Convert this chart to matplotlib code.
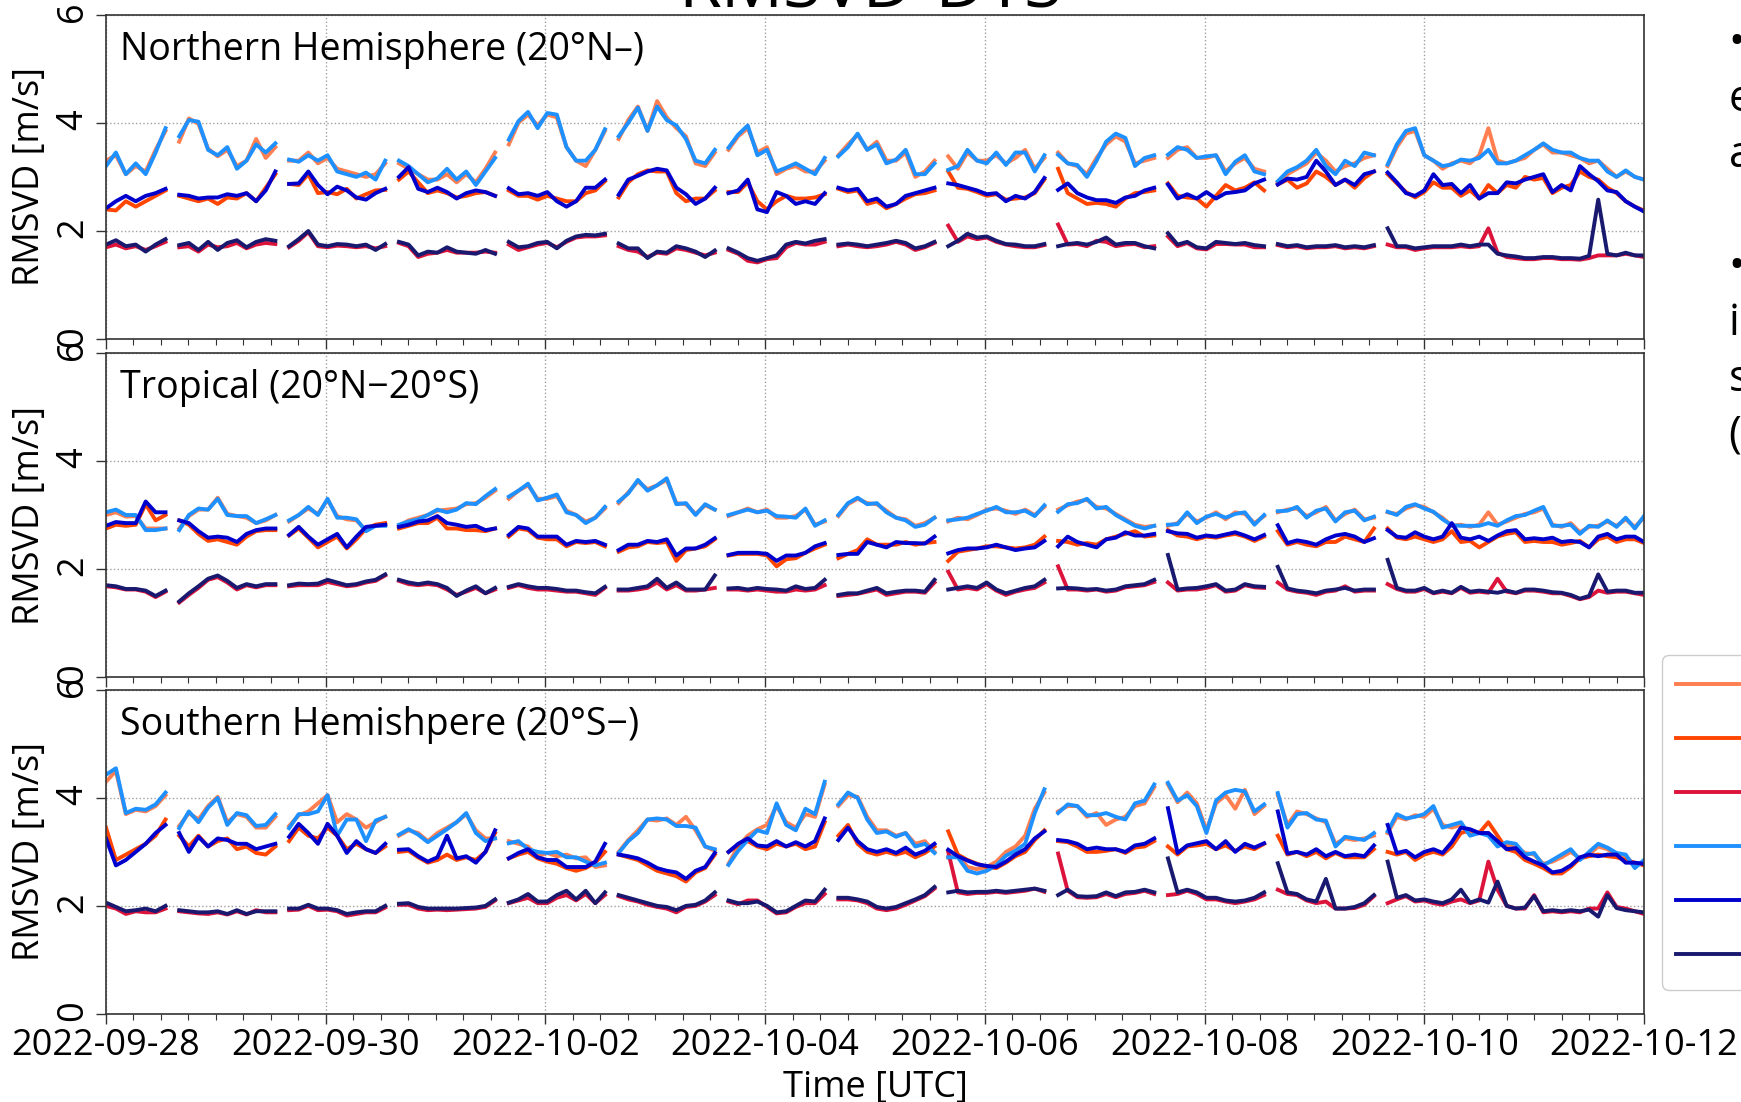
import numpy as np
import matplotlib
matplotlib.use("Agg")
import matplotlib.pyplot as plt
import matplotlib.dates as mdates

plt.rcParams['font.family'] = ['Open Sans', 'DejaVu Sans']

# ---------------- data ----------------
# hourly analysis windows (hours after 2022-09-28 00UTC); values sampled ~2-hourly
seg_start_h = [0, 16, 40, 64, 88, 112, 136, 160, 184, 208, 232, 256, 280]
seg_end_h = [13, 37, 61, 85, 109, 133, 157, 181, 205, 229, 253, 277, 336]
seg_npts = [7, 11, 11, 11, 11, 11, 11, 11, 11, 11, 11, 11, 29]

tick_dates = ['2022-09-28', '2022-09-30', '2022-10-02', '2022-10-04',
              '2022-10-06', '2022-10-08', '2022-10-10', '2022-10-12']

series_names = ['CNTL upper', 'CNTL middle', 'CNTL lower',
                'DTS upper', 'DTS middle', 'DTS lower']
series_colors = ['coral', 'orangered', 'crimson',
                 'dodgerblue', 'mediumblue', 'midnightblue']

panel_titles = ['Northern Hemisphere (20°N–)', 'Tropical (20°N−20°S)',
                'Southern Hemishpere (20°S−)']

# ---- Northern Hemisphere ----
nh_coral = [3.3, 3.4, 3.05, 3.2, 3.1, 3.5, 3.85,
            3.65, 4.08, 3.98, 3.52, 3.38, 3.5, 3.2, 3.3, 3.7, 3.35, 3.55,
            3.3, 3.3, 3.45, 3.25, 3.35, 3.15, 3.1, 3.05, 3.0, 3.05, 3.25,
            3.25, 3.15, 3.05, 2.95, 2.95, 3.05, 2.9, 3.05, 2.9, 3.15, 3.45,
            3.6, 4.0, 4.15, 3.95, 4.15, 4.1, 3.55, 3.3, 3.2, 3.5, 3.85,
            3.7, 4.05, 4.3, 3.85, 4.4, 4.1, 3.9, 3.75, 3.25, 3.2, 3.45,
            3.5, 3.75, 3.9, 3.45, 3.55, 3.05, 3.15, 3.2, 3.1, 3.1, 3.3,
            3.4, 3.6, 3.78, 3.5, 3.65, 3.3, 3.3, 3.45, 3.0, 3.1, 3.3,
            3.38, 3.15, 3.45, 3.3, 3.3, 3.4, 3.25, 3.35, 3.5, 3.15, 3.35,
            3.45, 3.25, 3.2, 3.05, 3.35, 3.6, 3.75, 3.65, 3.25, 3.3, 3.35,
            3.35, 3.5, 3.55, 3.35, 3.35, 3.4, 3.1, 3.25, 3.35, 3.15, 3.1,
            2.9, 3.05, 3.15, 3.25, 3.45, 3.3, 3.1, 3.2, 3.25, 3.35, 3.4,
            3.2, 3.55, 3.8, 3.85, 3.4, 3.3, 3.15, 3.25, 3.3, 3.25, 3.4, 3.9, 3.3, 3.25,
            3.3, 3.35, 3.5, 3.6, 3.45, 3.45, 3.4, 3.35, 3.25, 3.3, 3.15, 3.0, 3.1, 3.0, 2.95]
nh_orangered = [2.4, 2.38, 2.55, 2.45, 2.55, 2.65, 2.75,
                2.65, 2.6, 2.55, 2.6, 2.5, 2.62, 2.6, 2.7, 2.55, 2.8, 3.05,
                2.87, 2.85, 3.05, 2.7, 2.72, 2.68, 2.78, 2.6, 2.68, 2.75, 2.76,
                2.95, 3.1, 2.9, 2.7, 2.75, 2.7, 2.62, 2.65, 2.7, 2.72, 2.65,
                2.75, 2.65, 2.65, 2.58, 2.65, 2.6, 2.55, 2.55, 2.7, 2.75, 2.92,
                2.62, 2.9, 3.05, 3.12, 3.1, 3.1, 2.7, 2.55, 2.6, 2.6, 2.75,
                2.72, 2.72, 2.9, 2.55, 2.4, 2.55, 2.65, 2.6, 2.6, 2.62, 2.68,
                2.78, 2.72, 2.75, 2.5, 2.55, 2.42, 2.5, 2.6, 2.68, 2.7, 2.75,
                3.1, 2.8, 2.78, 2.72, 2.65, 2.68, 2.58, 2.6, 2.62, 2.7, 2.95,
                3.15, 2.7, 2.6, 2.5, 2.52, 2.5, 2.45, 2.6, 2.7, 2.72, 2.75,
                2.88, 2.65, 2.62, 2.6, 2.45, 2.65, 2.85, 2.75, 2.8, 2.9, 2.75,
                2.86, 2.95, 2.8, 2.88, 3.1, 3.0, 2.85, 2.95, 2.8, 2.98, 3.1,
                3.05, 2.88, 2.72, 2.62, 2.72, 2.9, 2.8, 2.8, 2.65, 2.75, 2.6, 2.85, 2.7, 2.85,
                2.8, 3.0, 2.95, 2.98, 2.7, 2.8, 2.85, 3.1, 3.0, 2.95, 2.8, 2.7, 2.55, 2.45, 2.38]
nh_crimson = [1.7, 1.75, 1.68, 1.72, 1.65, 1.72, 1.8,
              1.7, 1.72, 1.62, 1.75, 1.7, 1.72, 1.78, 1.68, 1.75, 1.78, 1.76,
              1.7, 1.82, 1.98, 1.72, 1.7, 1.73, 1.72, 1.7, 1.72, 1.68, 1.72,
              1.78, 1.72, 1.52, 1.58, 1.6, 1.65, 1.6, 1.6, 1.6, 1.62, 1.6,
              1.75, 1.65, 1.7, 1.75, 1.78, 1.7, 1.8, 1.88, 1.9, 1.9, 1.92,
              1.72, 1.65, 1.62, 1.52, 1.6, 1.58, 1.68, 1.65, 1.6, 1.55, 1.6,
              1.65, 1.58, 1.45, 1.42, 1.48, 1.5, 1.7, 1.78, 1.75, 1.75, 1.8,
              1.72, 1.75, 1.72, 1.7, 1.72, 1.75, 1.8, 1.75, 1.65, 1.7, 1.78,
              2.1, 1.8, 1.9, 1.85, 1.88, 1.8, 1.75, 1.72, 1.7, 1.7, 1.74,
              2.12, 1.75, 1.76, 1.72, 1.82, 1.8, 1.72, 1.75, 1.76, 1.7, 1.72,
              1.9, 1.72, 1.78, 1.68, 1.66, 1.76, 1.76, 1.75, 1.75, 1.7, 1.7,
              1.74, 1.7, 1.72, 1.68, 1.7, 1.7, 1.72, 1.68, 1.7, 1.68, 1.72,
              1.75, 1.7, 1.7, 1.65, 1.68, 1.7, 1.7, 1.7, 1.72, 1.7, 1.72, 2.05, 1.6, 1.52,
              1.5, 1.48, 1.48, 1.5, 1.5, 1.48, 1.48, 1.47, 1.5, 1.55, 1.55, 1.55, 1.58, 1.55, 1.52]
nh_dodgerblue = [3.2, 3.45, 3.05, 3.25, 3.05, 3.45, 3.9,
                 3.75, 4.05, 4.02, 3.5, 3.4, 3.55, 3.15, 3.3, 3.6, 3.45, 3.62,
                 3.32, 3.28, 3.4, 3.3, 3.4, 3.1, 3.05, 3.0, 3.08, 2.95, 3.3,
                 3.3, 3.2, 3.05, 2.9, 2.97, 3.15, 2.95, 3.1, 2.85, 3.1, 3.35,
                 3.69, 4.03, 4.2, 3.9, 4.18, 4.15, 3.55, 3.3, 3.3, 3.5, 3.88,
                 3.75, 4.0, 4.28, 3.85, 4.3, 4.05, 3.95, 3.7, 3.3, 3.25, 3.5,
                 3.54, 3.78, 3.95, 3.4, 3.5, 3.1, 3.17, 3.25, 3.15, 3.05, 3.35,
                 3.38, 3.55, 3.8, 3.5, 3.6, 3.25, 3.32, 3.5, 3.05, 3.05, 3.25,
                 3.13, 3.2, 3.5, 3.3, 3.25, 3.45, 3.22, 3.45, 3.45, 3.1, 3.4,
                 3.41, 3.25, 3.22, 3.0, 3.3, 3.65, 3.8, 3.72, 3.2, 3.35, 3.4,
                 3.41, 3.55, 3.5, 3.35, 3.38, 3.4, 3.05, 3.28, 3.4, 3.1, 3.05,
                 2.92, 3.1, 3.18, 3.3, 3.5, 3.2, 3.05, 3.3, 3.2, 3.45, 3.4,
                 3.23, 3.6, 3.85, 3.9, 3.4, 3.3, 3.2, 3.23, 3.32, 3.3, 3.35, 3.5, 3.25, 3.25,
                 3.3, 3.4, 3.5, 3.62, 3.5, 3.45, 3.45, 3.35, 3.3, 3.3, 3.1, 3.0, 3.12, 3.0, 2.95]
nh_mediumblue = [2.42, 2.55, 2.65, 2.55, 2.65, 2.7, 2.78,
                 2.67, 2.65, 2.6, 2.62, 2.62, 2.68, 2.65, 2.7, 2.55, 2.75, 3.1,
                 2.87, 2.88, 3.1, 2.85, 2.68, 2.82, 2.75, 2.62, 2.58, 2.7, 2.78,
                 3.0, 3.18, 2.78, 2.72, 2.8, 2.72, 2.6, 2.7, 2.75, 2.72, 2.65,
                 2.79, 2.68, 2.7, 2.65, 2.72, 2.55, 2.45, 2.55, 2.8, 2.8, 2.95,
                 2.67, 2.95, 3.02, 3.1, 3.15, 3.12, 2.8, 2.68, 2.5, 2.6, 2.8,
                 2.7, 2.75, 2.95, 2.4, 2.35, 2.72, 2.65, 2.5, 2.55, 2.5, 2.7,
                 2.8, 2.75, 2.78, 2.55, 2.6, 2.45, 2.5, 2.65, 2.7, 2.75, 2.8,
                 2.88, 2.85, 2.8, 2.75, 2.68, 2.7, 2.55, 2.65, 2.6, 2.72, 2.98,
                 2.76, 2.88, 2.7, 2.62, 2.57, 2.57, 2.52, 2.62, 2.65, 2.75, 2.8,
                 2.86, 2.6, 2.68, 2.6, 2.72, 2.6, 2.7, 2.72, 2.75, 2.88, 2.95,
                 2.86, 2.97, 2.95, 3.0, 3.3, 3.1, 2.85, 2.95, 2.85, 3.05, 3.1,
                 3.08, 2.9, 2.7, 2.65, 2.75, 3.05, 2.85, 2.87, 2.7, 2.85, 2.6, 2.7, 2.7, 2.9,
                 2.88, 2.95, 3.0, 3.05, 2.72, 2.85, 2.75, 3.2, 3.05, 2.92, 2.75, 2.72, 2.55, 2.45, 2.36]
nh_midnightblue = [1.75, 1.83, 1.72, 1.75, 1.62, 1.75, 1.85,
                   1.74, 1.78, 1.65, 1.8, 1.65, 1.78, 1.83, 1.7, 1.8, 1.85, 1.82,
                   1.72, 1.85, 2.0, 1.75, 1.72, 1.76, 1.75, 1.72, 1.75, 1.65, 1.76,
                   1.8, 1.75, 1.55, 1.62, 1.6, 1.7, 1.62, 1.6, 1.58, 1.65, 1.58,
                   1.8, 1.7, 1.72, 1.78, 1.8, 1.68, 1.82, 1.9, 1.93, 1.92, 1.95,
                   1.77, 1.68, 1.68, 1.5, 1.62, 1.6, 1.72, 1.68, 1.62, 1.52, 1.64,
                   1.68, 1.6, 1.5, 1.45, 1.5, 1.55, 1.75, 1.8, 1.77, 1.82, 1.85,
                   1.75, 1.77, 1.75, 1.72, 1.75, 1.78, 1.82, 1.78, 1.68, 1.72, 1.8,
                   1.72, 1.82, 1.95, 1.88, 1.9, 1.82, 1.76, 1.75, 1.72, 1.72, 1.76,
                   1.72, 1.76, 1.78, 1.75, 1.8, 1.88, 1.75, 1.78, 1.78, 1.72, 1.68,
                   1.96, 1.75, 1.8, 1.7, 1.68, 1.8, 1.78, 1.76, 1.78, 1.74, 1.72,
                   1.76, 1.72, 1.74, 1.7, 1.72, 1.72, 1.74, 1.7, 1.72, 1.7, 1.74,
                   2.05, 1.72, 1.72, 1.68, 1.7, 1.72, 1.72, 1.72, 1.75, 1.72, 1.75, 1.75, 1.58, 1.55,
                   1.53, 1.5, 1.5, 1.52, 1.52, 1.5, 1.5, 1.49, 1.54, 2.58, 1.58, 1.55, 1.6, 1.55, 1.55]

# ---- Tropical ----
tr_coral = [3.0, 3.05, 2.97, 2.98, 2.75, 2.75, 2.75,
            2.75, 2.98, 3.1, 3.1, 3.32, 3.02, 2.98, 2.95, 2.85, 2.9, 3.0,
            2.88, 3.0, 3.12, 3.02, 3.28, 2.98, 2.92, 2.9, 2.72, 2.82, 2.82,
            2.8, 2.9, 2.95, 3.0, 3.08, 3.1, 3.12, 3.2, 3.22, 3.32, 3.45,
            3.3, 3.45, 3.55, 3.3, 3.3, 3.35, 3.08, 3.0, 2.88, 2.95, 3.12,
            3.22, 3.42, 3.62, 3.48, 3.55, 3.65, 3.22, 3.2, 3.02, 3.18, 3.1,
            2.98, 3.05, 3.12, 3.05, 3.1, 2.95, 2.95, 2.98, 3.1, 2.82, 2.88,
            2.98, 3.2, 3.3, 3.22, 3.2, 3.08, 2.95, 2.92, 2.8, 2.85, 2.95,
            2.88, 2.95, 2.92, 3.0, 3.1, 3.12, 3.08, 3.02, 3.1, 3.0, 3.15,
            3.1, 3.18, 3.25, 3.28, 3.15, 3.12, 3.02, 2.92, 2.82, 2.78, 2.8,
            2.8, 2.85, 3.02, 2.88, 2.95, 3.05, 2.92, 3.05, 3.02, 2.85, 2.98,
            3.05, 3.1, 3.12, 2.98, 3.05, 3.15, 2.9, 3.02, 3.1, 2.92, 2.95,
            3.05, 3.02, 3.12, 3.18, 3.15, 3.05, 2.95, 2.8, 2.82, 2.78, 2.82, 3.05, 2.82, 2.88,
            2.95, 3.02, 3.05, 3.12, 2.82, 2.78, 2.85, 2.68, 2.78, 2.8, 2.88, 2.8, 2.92, 2.78, 2.95]
tr_orangered = [2.75, 2.82, 2.8, 2.82, 3.2, 2.9, 3.0,
                2.9, 2.82, 2.65, 2.52, 2.55, 2.5, 2.45, 2.6, 2.7, 2.72, 2.72,
                2.62, 2.75, 2.58, 2.4, 2.5, 2.6, 2.38, 2.55, 2.75, 2.82, 2.85,
                2.75, 2.8, 2.85, 2.85, 2.95, 2.75, 2.75, 2.72, 2.72, 2.7, 2.75,
                2.6, 2.75, 2.72, 2.58, 2.55, 2.55, 2.42, 2.5, 2.48, 2.5, 2.42,
                2.32, 2.4, 2.42, 2.5, 2.48, 2.5, 2.15, 2.35, 2.38, 2.42, 2.55,
                2.25, 2.28, 2.28, 2.28, 2.25, 2.05, 2.18, 2.2, 2.3, 2.38, 2.45,
                2.2, 2.28, 2.35, 2.55, 2.45, 2.45, 2.45, 2.5, 2.45, 2.48, 2.5,
                2.15, 2.32, 2.35, 2.38, 2.42, 2.42, 2.4, 2.38, 2.4, 2.45, 2.6,
                2.52, 2.5, 2.45, 2.48, 2.45, 2.55, 2.6, 2.65, 2.7, 2.6, 2.62,
                2.72, 2.62, 2.6, 2.55, 2.6, 2.58, 2.62, 2.65, 2.6, 2.52, 2.6,
                2.7, 2.45, 2.5, 2.45, 2.42, 2.5, 2.5, 2.6, 2.55, 2.5, 2.75,
                2.75, 2.58, 2.55, 2.6, 2.55, 2.5, 2.55, 2.7, 2.5, 2.52, 2.4, 2.5, 2.6, 2.65,
                2.68, 2.5, 2.52, 2.5, 2.5, 2.45, 2.48, 2.52, 2.4, 2.55, 2.6, 2.5, 2.55, 2.55, 2.48]
tr_crimson = [1.68, 1.66, 1.62, 1.62, 1.58, 1.48, 1.58,
              1.38, 1.52, 1.65, 1.8, 1.85, 1.75, 1.62, 1.7, 1.66, 1.7, 1.7,
              1.68, 1.7, 1.7, 1.7, 1.76, 1.72, 1.68, 1.7, 1.75, 1.78, 1.88,
              1.78, 1.72, 1.7, 1.72, 1.7, 1.62, 1.52, 1.58, 1.65, 1.55, 1.62,
              1.65, 1.7, 1.65, 1.62, 1.62, 1.6, 1.58, 1.58, 1.55, 1.52, 1.65,
              1.6, 1.6, 1.62, 1.65, 1.75, 1.62, 1.7, 1.6, 1.6, 1.62, 1.65,
              1.62, 1.62, 1.6, 1.62, 1.6, 1.58, 1.58, 1.62, 1.6, 1.62, 1.7,
              1.5, 1.52, 1.54, 1.58, 1.62, 1.52, 1.55, 1.58, 1.58, 1.56, 1.75,
              1.95, 1.62, 1.65, 1.62, 1.72, 1.6, 1.52, 1.58, 1.62, 1.65, 1.75,
              2.05, 1.62, 1.62, 1.6, 1.62, 1.58, 1.6, 1.66, 1.68, 1.7, 1.76,
              1.75, 1.6, 1.62, 1.62, 1.65, 1.7, 1.58, 1.6, 1.7, 1.66, 1.65,
              1.75, 1.62, 1.58, 1.56, 1.52, 1.58, 1.6, 1.68, 1.58, 1.6, 1.6,
              1.72, 1.63, 1.58, 1.58, 1.63, 1.55, 1.58, 1.55, 1.65, 1.56, 1.58, 1.56, 1.82, 1.58,
              1.55, 1.6, 1.6, 1.58, 1.55, 1.55, 1.5, 1.44, 1.48, 1.6, 1.56, 1.58, 1.58, 1.55, 1.52]
tr_dodgerblue = [3.05, 3.1, 3.0, 3.0, 2.72, 2.72, 2.75,
                 2.72, 3.0, 3.12, 3.1, 3.3, 3.0, 2.98, 2.98, 2.85, 2.92, 3.0,
                 2.9, 3.0, 3.15, 3.0, 3.3, 2.95, 2.95, 2.92, 2.7, 2.8, 2.8,
                 2.82, 2.88, 2.92, 3.0, 3.1, 3.05, 3.1, 3.22, 3.2, 3.35, 3.48,
                 3.34, 3.45, 3.58, 3.27, 3.32, 3.38, 3.05, 3.0, 2.85, 2.95, 3.15,
                 3.25, 3.4, 3.65, 3.45, 3.55, 3.68, 3.2, 3.22, 3.0, 3.2, 3.1,
                 3.0, 3.05, 3.1, 3.05, 3.08, 2.98, 2.97, 2.95, 3.12, 2.8, 2.9,
                 3.0, 3.22, 3.32, 3.2, 3.22, 3.05, 2.95, 2.9, 2.78, 2.82, 2.95,
                 2.9, 2.92, 2.95, 3.02, 3.08, 3.15, 3.05, 3.05, 3.08, 2.98, 3.18,
                 3.06, 3.2, 3.22, 3.3, 3.12, 3.15, 3.0, 2.9, 2.8, 2.75, 2.8,
                 2.82, 2.83, 3.05, 2.85, 2.97, 3.02, 2.95, 3.02, 3.05, 2.82, 3.0,
                 3.07, 3.08, 3.15, 2.95, 3.08, 3.12, 2.88, 3.05, 3.08, 2.9, 2.97,
                 3.06, 3.0, 3.15, 3.2, 3.12, 3.06, 2.92, 2.81, 2.8, 2.8, 2.8, 2.85, 2.8, 2.9,
                 2.98, 3.0, 3.08, 3.15, 2.8, 2.8, 2.82, 2.65, 2.8, 2.78, 2.9, 2.78, 2.95, 2.75, 2.98]
tr_mediumblue = [2.8, 2.87, 2.85, 2.85, 3.25, 3.05, 3.05,
                 2.9, 2.85, 2.7, 2.58, 2.6, 2.58, 2.5, 2.65, 2.72, 2.75, 2.75,
                 2.63, 2.78, 2.6, 2.45, 2.55, 2.65, 2.4, 2.6, 2.78, 2.8, 2.82,
                 2.78, 2.82, 2.88, 2.9, 2.98, 2.85, 2.82, 2.78, 2.8, 2.72, 2.75,
                 2.63, 2.78, 2.75, 2.6, 2.6, 2.6, 2.45, 2.52, 2.5, 2.52, 2.45,
                 2.35, 2.45, 2.45, 2.52, 2.5, 2.55, 2.25, 2.38, 2.38, 2.45, 2.57,
                 2.26, 2.3, 2.3, 2.3, 2.28, 2.15, 2.25, 2.25, 2.3, 2.42, 2.48,
                 2.26, 2.28, 2.28, 2.5, 2.45, 2.4, 2.5, 2.48, 2.48, 2.47, 2.6,
                 2.29, 2.35, 2.38, 2.38, 2.4, 2.45, 2.4, 2.35, 2.38, 2.4, 2.52,
                 2.42, 2.6, 2.5, 2.45, 2.4, 2.55, 2.58, 2.68, 2.62, 2.62, 2.65,
                 2.7, 2.66, 2.65, 2.58, 2.62, 2.6, 2.64, 2.68, 2.62, 2.55, 2.63,
                 2.81, 2.48, 2.53, 2.5, 2.45, 2.55, 2.62, 2.65, 2.6, 2.5, 2.57,
                 2.72, 2.6, 2.58, 2.68, 2.6, 2.55, 2.6, 2.85, 2.58, 2.55, 2.6, 2.52, 2.62, 2.7,
                 2.72, 2.55, 2.57, 2.55, 2.58, 2.5, 2.52, 2.5, 2.4, 2.6, 2.65, 2.55, 2.6, 2.6, 2.5]
tr_midnightblue = [1.7, 1.68, 1.63, 1.63, 1.6, 1.5, 1.6,
                   1.4, 1.55, 1.68, 1.82, 1.88, 1.78, 1.65, 1.72, 1.68, 1.72, 1.72,
                   1.7, 1.73, 1.72, 1.73, 1.8, 1.75, 1.7, 1.72, 1.77, 1.8, 1.9,
                   1.8, 1.75, 1.72, 1.75, 1.72, 1.65, 1.5, 1.6, 1.68, 1.55, 1.65,
                   1.67, 1.72, 1.68, 1.65, 1.65, 1.63, 1.6, 1.6, 1.57, 1.55, 1.67,
                   1.62, 1.62, 1.65, 1.68, 1.82, 1.65, 1.75, 1.62, 1.62, 1.62, 1.88,
                   1.64, 1.65, 1.62, 1.65, 1.63, 1.62, 1.6, 1.68, 1.63, 1.65, 1.8,
                   1.52, 1.55, 1.55, 1.6, 1.65, 1.55, 1.58, 1.6, 1.6, 1.58, 1.8,
                   1.62, 1.65, 1.68, 1.65, 1.75, 1.62, 1.55, 1.6, 1.65, 1.68, 1.8,
                   1.64, 1.65, 1.64, 1.62, 1.63, 1.6, 1.62, 1.68, 1.7, 1.72, 1.8,
                   2.26, 1.62, 1.64, 1.65, 1.68, 1.72, 1.6, 1.62, 1.72, 1.68, 1.67,
                   2.04, 1.64, 1.6, 1.58, 1.55, 1.6, 1.62, 1.65, 1.6, 1.62, 1.62,
                   2.17, 1.65, 1.6, 1.6, 1.65, 1.56, 1.6, 1.56, 1.67, 1.58, 1.6, 1.58, 1.56, 1.6,
                   1.56, 1.62, 1.62, 1.6, 1.57, 1.56, 1.52, 1.45, 1.5, 1.9, 1.58, 1.6, 1.6, 1.56, 1.56]

# ---- Southern Hemisphere ----
sh_coral = [4.3, 4.5, 3.7, 3.78, 3.75, 3.85, 4.05,
            3.48, 3.72, 3.6, 3.85, 4.02, 3.55, 3.7, 3.65, 3.45, 3.45, 3.65,
            3.48, 3.68, 3.75, 3.9, 4.05, 3.55, 3.7, 3.6, 3.45, 3.55, 3.65,
            3.3, 3.4, 3.35, 3.2, 3.35, 3.45, 3.55, 3.7, 3.4, 3.25, 3.25,
            3.2, 3.15, 3.1, 2.92, 2.98, 2.92, 2.95, 2.88, 2.9, 2.72, 2.75,
            3.0, 3.22, 3.4, 3.6, 3.58, 3.62, 3.5, 3.65, 3.4, 3.1, 3.02,
            2.78, 3.1, 3.3, 3.42, 3.5, 3.85, 3.55, 3.45, 3.7, 3.65, 4.25,
            3.85, 4.05, 4.02, 3.65, 3.4, 3.4, 3.3, 3.35, 3.15, 3.2, 3.0,
            2.9, 2.95, 2.72, 2.68, 2.72, 2.82, 3.0, 3.1, 3.3, 3.8, 4.1,
            3.75, 3.85, 3.85, 3.65, 3.72, 3.5, 3.6, 3.65, 3.85, 3.9, 4.2,
            4.25, 3.92, 4.1, 3.9, 3.4, 3.9, 4.05, 3.8, 4.15, 3.7, 3.85,
            4.05, 3.5, 3.75, 3.7, 3.62, 3.55, 3.15, 3.25, 3.22, 3.25, 3.3,
            3.35, 3.65, 3.6, 3.68, 3.65, 3.8, 3.5, 3.45, 3.5, 3.32, 3.35, 3.35, 3.15, 3.12,
            3.1, 2.98, 2.95, 2.78, 2.82, 2.9, 3.0, 2.88, 2.95, 3.1, 3.05, 2.95, 2.92, 2.75, 2.82]
sh_orangered = [3.45, 2.85, 2.95, 3.05, 3.15, 3.3, 3.6,
                3.3, 3.1, 3.3, 3.1, 3.2, 3.25, 3.05, 3.1, 2.98, 2.95, 3.1,
                3.2, 3.45, 3.3, 3.25, 3.45, 3.3, 3.05, 3.15, 3.05, 2.98, 3.1,
                3.0, 3.02, 2.9, 2.8, 2.85, 2.95, 2.85, 2.9, 2.85, 3.0, 3.35,
                2.88, 2.95, 3.0, 2.88, 2.82, 2.78, 2.7, 2.65, 2.7, 2.8, 3.0,
                2.95, 2.9, 2.85, 2.75, 2.65, 2.6, 2.55, 2.45, 2.62, 2.7, 2.95,
                3.0, 3.12, 3.2, 3.1, 3.05, 3.15, 3.1, 3.15, 3.05, 3.1, 3.55,
                3.3, 3.5, 3.15, 3.0, 2.95, 3.0, 2.95, 3.0, 2.9, 2.98, 3.1,
                3.38, 2.95, 2.85, 2.78, 2.72, 2.7, 2.8, 2.92, 3.0, 3.22, 3.4,
                3.2, 3.18, 3.1, 3.0, 3.0, 3.02, 3.05, 2.98, 3.08, 3.1, 3.2,
                3.1, 2.95, 3.1, 3.12, 3.15, 3.05, 3.12, 3.02, 3.1, 3.05, 3.15,
                3.3, 2.95, 3.0, 2.92, 3.0, 2.88, 2.98, 2.9, 2.9, 2.9, 3.05,
                3.0, 2.95, 3.0, 2.85, 2.95, 3.0, 2.95, 3.1, 3.35, 3.4, 3.35, 3.55, 3.3, 3.05,
                3.0, 2.85, 2.78, 2.7, 2.6, 2.6, 2.72, 2.88, 2.92, 2.95, 2.92, 2.9, 2.85, 2.8, 2.75]
sh_crimson = [2.0, 1.95, 1.85, 1.9, 1.88, 1.88, 1.95,
              1.9, 1.88, 1.86, 1.85, 1.88, 1.84, 1.9, 1.84, 1.92, 1.88, 1.88,
              1.92, 1.93, 2.0, 1.92, 1.93, 1.9, 1.82, 1.85, 1.88, 1.88, 1.97,
              2.02, 2.02, 1.95, 1.92, 1.93, 1.92, 1.93, 1.94, 1.95, 1.98, 2.1,
              2.05, 2.1, 2.15, 2.05, 2.05, 2.15, 2.2, 2.1, 2.22, 2.05, 2.2,
              2.18, 2.12, 2.08, 2.02, 1.98, 1.95, 1.88, 1.98, 2.0, 2.08, 2.2,
              2.08, 2.03, 2.1, 2.1, 1.98, 1.86, 1.88, 1.98, 2.05, 2.05, 2.22,
              2.12, 2.12, 2.1, 2.05, 1.95, 1.92, 1.95, 2.02, 2.1, 2.18, 2.32,
              3.0, 2.25, 2.22, 2.24, 2.24, 2.26, 2.24, 2.26, 2.28, 2.32, 2.26,
              2.97, 2.28, 2.16, 2.15, 2.16, 2.22, 2.16, 2.22, 2.24, 2.28, 2.22,
              2.2, 2.22, 2.28, 2.22, 2.12, 2.12, 2.08, 2.05, 2.08, 2.12, 2.2,
              2.3, 2.22, 2.2, 2.1, 2.05, 2.08, 1.95, 1.95, 1.96, 2.02, 2.18,
              2.05, 2.12, 2.18, 2.08, 2.1, 2.05, 2.02, 2.08, 2.12, 2.05, 2.1, 2.82, 2.3, 2.0,
              1.95, 1.95, 2.2, 1.88, 1.9, 1.88, 1.9, 1.88, 1.95, 1.95, 2.25, 1.98, 1.95, 1.9, 1.85]
sh_dodgerblue = [4.43, 4.55, 3.72, 3.8, 3.78, 3.88, 4.1,
                 3.44, 3.75, 3.55, 3.82, 4.0, 3.5, 3.72, 3.68, 3.48, 3.5, 3.7,
                 3.44, 3.7, 3.7, 3.75, 4.05, 3.3, 3.6, 3.6, 3.2, 3.58, 3.65,
                 3.32, 3.42, 3.32, 3.18, 3.3, 3.42, 3.55, 3.72, 3.35, 3.2, 3.25,
                 3.16, 3.2, 3.05, 3.0, 2.98, 3.0, 2.9, 2.9, 2.82, 2.75, 2.8,
                 2.98, 3.2, 3.35, 3.6, 3.62, 3.6, 3.48, 3.48, 3.45, 3.1, 3.05,
                 2.76, 3.02, 3.22, 3.4, 3.35, 3.9, 3.5, 3.4, 3.8, 3.7, 4.3,
                 3.88, 4.1, 4.0, 3.6, 3.35, 3.38, 3.28, 3.35, 3.1, 3.15, 2.98,
                 2.9, 2.9, 2.65, 2.6, 2.65, 2.75, 2.93, 3.02, 3.15, 3.72, 4.16,
                 3.72, 3.88, 3.85, 3.68, 3.68, 3.72, 3.65, 3.6, 3.9, 3.95, 4.25,
                 4.28, 3.95, 4.05, 3.85, 3.35, 3.95, 4.1, 4.15, 4.12, 3.75, 3.88,
                 4.09, 3.45, 3.7, 3.72, 3.6, 3.58, 3.1, 3.28, 3.25, 3.22, 3.35,
                 3.38, 3.7, 3.62, 3.65, 3.7, 3.85, 3.45, 3.5, 3.55, 3.3, 3.35, 3.3, 3.1, 3.18,
                 3.15, 2.95, 2.98, 2.75, 2.85, 2.95, 3.05, 2.85, 3.0, 3.15, 3.08, 2.98, 2.95, 2.7, 2.85]
sh_mediumblue = [3.25, 2.75, 2.85, 3.0, 3.15, 3.35, 3.5,
                 3.35, 3.0, 3.28, 3.1, 3.25, 3.22, 3.15, 3.15, 3.05, 3.1, 3.15,
                 3.28, 3.52, 3.35, 3.15, 3.52, 3.3, 2.98, 3.2, 3.05, 2.98, 3.15,
                 3.04, 3.05, 2.92, 2.82, 2.9, 3.3, 2.88, 2.92, 2.8, 3.0, 3.4,
                 2.88, 2.98, 3.05, 2.9, 2.85, 2.85, 2.72, 2.72, 2.72, 2.82, 3.15,
                 2.95, 2.92, 2.88, 2.8, 2.7, 2.65, 2.62, 2.5, 2.65, 2.72, 2.98,
                 3.0, 3.15, 3.25, 3.12, 3.1, 3.2, 3.1, 3.18, 3.1, 3.2, 3.62,
                 3.22, 3.45, 3.2, 3.05, 3.0, 3.05, 2.98, 3.08, 2.95, 3.02, 3.15,
                 3.04, 2.92, 2.84, 2.77, 2.74, 2.72, 2.82, 2.95, 3.05, 3.25, 3.38,
                 3.22, 3.2, 3.15, 3.05, 3.08, 3.05, 3.05, 3.0, 3.12, 3.15, 3.25,
                 3.81, 2.98, 3.12, 3.16, 3.2, 3.05, 3.2, 3.0, 3.15, 3.08, 3.16,
                 3.75, 2.97, 3.0, 2.95, 3.05, 2.92, 3.0, 2.92, 2.95, 2.92, 3.12,
                 3.5, 2.98, 3.02, 2.9, 3.0, 3.05, 2.98, 3.18, 3.45, 3.42, 3.35, 3.35, 3.2, 3.05,
                 3.07, 2.9, 2.82, 2.75, 2.62, 2.65, 2.75, 2.9, 2.95, 2.92, 2.95, 2.95, 2.8, 2.8, 2.78]
sh_midnightblue = [2.06, 1.98, 1.9, 1.92, 1.95, 1.9, 2.0,
                   1.92, 1.9, 1.88, 1.88, 1.9, 1.85, 1.92, 1.85, 1.9, 1.9, 1.9,
                   1.95, 1.95, 2.02, 1.95, 1.95, 1.92, 1.85, 1.88, 1.9, 1.9, 2.0,
                   2.04, 2.05, 1.98, 1.95, 1.95, 1.95, 1.95, 1.96, 1.97, 2.0, 2.12,
                   2.06, 2.12, 2.22, 2.08, 2.08, 2.2, 2.28, 2.12, 2.28, 2.05, 2.25,
                   2.2, 2.15, 2.1, 2.05, 2.0, 1.98, 1.92, 2.0, 2.02, 2.1, 2.25,
                   2.1, 2.05, 2.05, 2.08, 2.0, 1.88, 1.9, 2.0, 2.1, 2.08, 2.3,
                   2.15, 2.15, 2.12, 2.08, 1.98, 1.95, 1.98, 2.05, 2.12, 2.2, 2.35,
                   2.25, 2.28, 2.25, 2.26, 2.26, 2.28, 2.26, 2.28, 2.3, 2.32, 2.28,
                   2.2, 2.3, 2.18, 2.17, 2.18, 2.25, 2.18, 2.25, 2.26, 2.3, 2.25,
                   2.88, 2.25, 2.3, 2.25, 2.15, 2.15, 2.1, 2.08, 2.1, 2.15, 2.25,
                   2.79, 2.25, 2.22, 2.12, 2.08, 2.5, 1.95, 1.95, 1.98, 2.05, 2.2,
                   2.82, 2.15, 2.2, 2.1, 2.12, 2.08, 2.05, 2.12, 2.3, 2.06, 2.12, 2.06, 2.45, 2.0,
                   1.95, 1.97, 2.18, 1.9, 1.92, 1.9, 1.92, 1.9, 1.93, 1.8, 2.2, 1.96, 1.92, 1.9, 1.88]

panels = [
    [nh_coral, nh_orangered, nh_crimson, nh_dodgerblue, nh_mediumblue, nh_midnightblue],
    [tr_coral, tr_orangered, tr_crimson, tr_dodgerblue, tr_mediumblue, tr_midnightblue],
    [sh_coral, sh_orangered, sh_crimson, sh_dodgerblue, sh_mediumblue, sh_midnightblue],
]

side_notes = ['• Both experiments show similar',
              'error levels in every region',
              'and at every level.',
              '• DTS shows larger RMSVD',
              'in the first hours of a cycle,',
              'similar to CNTL afterwards',
              '(spin-up of each cycle).']

# ---------------- build time axis ----------------
t0 = np.datetime64('2022-09-28T00:00')
seg_x = []
for s, e, n in zip(seg_start_h, seg_end_h, seg_npts):
    mins = np.round(np.linspace(s, e, n) * 60).astype(int)
    seg_x.append(mdates.date2num(t0 + mins.astype('timedelta64[m]')))


def with_gaps(values):
    assert len(values) == sum(seg_npts), len(values)
    xs, ys = [], []
    i = 0
    for k, n in enumerate(seg_npts):
        xs.extend(seg_x[k])
        ys.extend(values[i:i + n])
        i += n
        if k < len(seg_npts) - 1:
            xs.append(np.nan)
            ys.append(np.nan)
    return np.array(xs, float), np.array(ys, float)


# ---------------- figure ----------------
W_PX, H_PX = 1741, 1102
fig = plt.figure(figsize=(W_PX / 100, H_PX / 100), dpi=100)

left, right = 106, 1644
panel_rows = [(14.5, 339.3), (353.0, 677.0), (690.0, 1013.8)]
major = mdates.date2num(np.array(tick_dates, dtype='datetime64[D]'))
minor = np.arange(major[0], major[-1] + 1e-9, 0.25)

handles = None
for p, ((top, bot), series) in enumerate(zip(panel_rows, panels)):
    ax = fig.add_axes([left / W_PX, 1 - bot / H_PX,
                       (right - left) / W_PX, (bot - top) / H_PX])
    hs = []
    for vals, col, name in zip(series, series_colors, series_names):
        x, y = with_gaps(vals)
        h, = ax.plot(x, y, color=col, lw=2.8, label=name, solid_joinstyle='round')
        hs.append(h)
    if handles is None:
        handles = hs
    ax.set_xlim(major[0], major[-1])
    ax.set_ylim(0, 6)
    ax.set_xticks(major)
    ax.set_xticks(minor, minor=True)
    ax.set_yticks([0, 2, 4, 6])
    ax.grid(True, which='major', linestyle=':', color='#a0a0a0', lw=1.0)
    ax.tick_params(axis='both', which='major', direction='out', length=7,
                   width=1.0, labelsize=26, color='#333333')
    ax.tick_params(axis='x', which='minor', direction='out', length=4,
                   width=0.8, color='#333333')
    ax.tick_params(axis='y', labelrotation=90)
    for sp in ax.spines.values():
        sp.set_color('#333333')
        sp.set_linewidth(1.2)
    if p < 2:
        ax.tick_params(axis='x', labelbottom=False)
    else:
        ax.set_xticklabels(tick_dates)
        ax.set_xlabel('Time [UTC]', fontsize=26, labelpad=4)
    ax.set_ylabel('RMSVD [m/s]', fontsize=26, va='center')
    ax.yaxis.set_label_coords(-0.0495, 0.5)
    ax.text(0.0091, 0.861, panel_titles[p], transform=ax.transAxes,
            fontsize=27, ha='left', va='baseline')

fig.text(0.5, 1 - 8 / H_PX, 'RMSVD-DTS', fontsize=50, ha='center', va='baseline')

for k, line in enumerate(side_notes):
    row = k if k < 3 else k + 1
    fig.text(1729 / W_PX, 1 - (55 + 56 * row) / H_PX, line,
             fontsize=31, ha='left', va='baseline')

fig.legend(handles, series_names, loc='upper left',
           bbox_to_anchor=(1662 / W_PX, 1 - 655 / H_PX), borderaxespad=0,
           fontsize=26, labelspacing=0.5, frameon=True, edgecolor='#cccccc',
           framealpha=1.0)

fig.savefig('out.png', dpi=100)
